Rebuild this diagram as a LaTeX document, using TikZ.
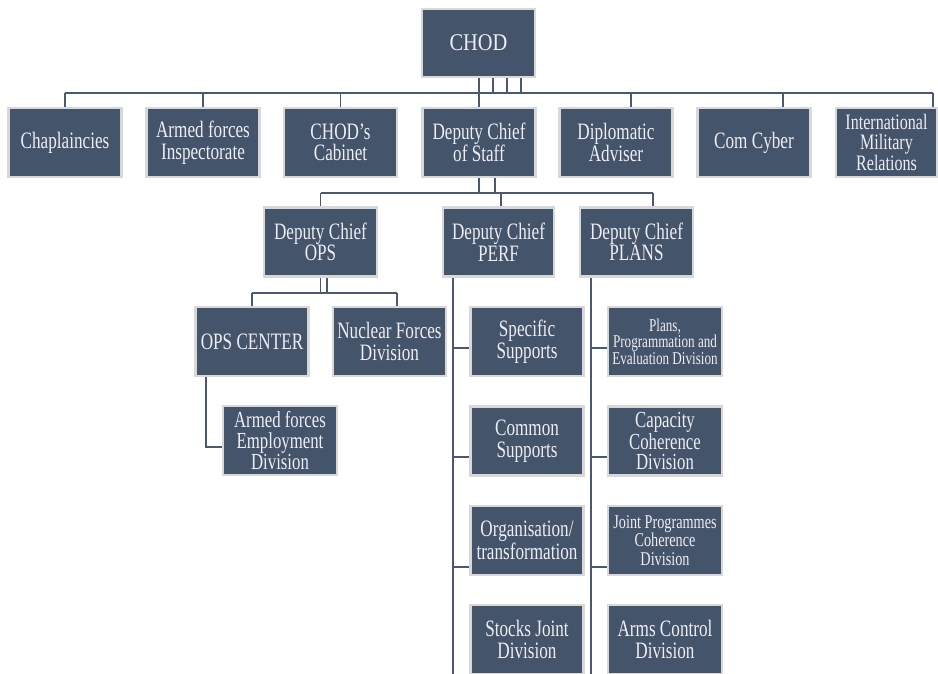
\documentclass[tikz,border=0pt]{standalone}
\usepackage{fontspec}
\setmainfont{Liberation Serif}[FakeStretch=0.73]
\newfontfamily\headfont{Liberation Serif}[FakeStretch=0.85]
\usetikzlibrary{backgrounds}
\definecolor{boxfill}{HTML}{44546A}
\definecolor{boxedge}{HTML}{D8D8D8}
\definecolor{linkcol}{HTML}{4A5870}
\definecolor{boxtext}{HTML}{EEEEF2}
\begin{document}
\begin{tikzpicture}[x=1pt,y=-1pt,
  unit/.style={draw=boxedge, line width=2.2pt, fill=boxfill, text=boxtext,
    minimum width=113pt, minimum height=69pt, inner sep=1pt, outer sep=0pt,
    align=center, font=\fontsize{23.5}{21.5}\selectfont},
  three/.style={font=\fontsize{23}{20.8}\selectfont},
  small/.style={font=\fontsize{18}{16.5}\selectfont},
  link/.style={draw=linkcol, line width=1.4pt}]
\useasboundingbox (0,0) rectangle (938,673);

% top of the chart
\node[unit, minimum height=68pt, font=\headfont\fontsize{24}{26}\selectfont] (chod) at (478.5,43) {CHOD};

% staff directly attached to CHOD
\node[unit] (chap)  at (65,142.5)  {Chaplaincies};
\node[unit] (afi)   at (203,142.5) {Armed forces\\Inspectorate};
\node[unit] (cab)   at (340.5,142.5) {CHOD’s\\Cabinet};
\node[unit] (dcs)   at (479,142.5) {Deputy Chief\\of Staff};
\node[unit] (dipl)  at (616,142.5) {Diplomatic\\Adviser};
\node[unit] (cyber) at (754,142.5) {Com Cyber};
\node[unit, minimum width=101pt, font=\fontsize{22}{20}\selectfont] (imr) at (886.5,142.5) {International\\Military\\Relations};

% deputy chiefs
\node[unit] (ops)   at (320.5,242) {Deputy Chief\\OPS};
\node[unit, minimum width=111pt] (perf) at (498.5,242) {Deputy Chief\\PERF};
\node[unit] (plans) at (636.5,242) {Deputy Chief\\PLANS};

% OPS branch
\node[unit] (opsc) at (252,341.5)   {OPS CENTER};
\node[unit] (nuc)  at (389.5,341.5) {Nuclear Forces\\Division};
\node[unit, minimum width=114pt, three] (afe) at (280,440.5) {Armed forces\\Employment\\Division};

% PERF branch
\node[unit] (spec)  at (527,341.5) {Specific\\Supports};
\node[unit] (comm)  at (527,441)   {Common\\Supports};
\node[unit] (org)   at (527,540.5) {Organisation/\\transformation};
\node[unit] (stock) at (527,639.5) {Stocks Joint\\Division};

% PLANS branch
\node[unit, minimum width=114pt, small] (ppe) at (665,341.5) {Plans,\\Programmation and\\Evaluation Division};
\node[unit, minimum width=114pt, three] (cap) at (665,441) {Capacity\\Coherence\\Division};
\node[unit, minimum width=114pt, font=\fontsize{19.5}{18.5}\selectfont] (jpc) at (665,540.5) {Joint Programmes\\Coherence\\Division};
\node[unit, minimum width=114pt] (arms) at (665,639.5) {Arms Control\\Division};

% bus levels
\coordinate (busA) at (0,93);
\coordinate (busAend) at (933,93);
\coordinate (busB) at (0,193);
\coordinate (busBend) at (653,193);
\coordinate (busC) at (0,293);
\coordinate (busCend) at (397,293);

\begin{pgfonlayer}{background}
  % CHOD to its staff
  \draw[link] (chod.south -| dcs.north) -- (dcs.north);
  \foreach \dx in {14.5,28.5,42.5}
    \draw[link] ([xshift=\dx pt]chod.south) -- ++(0,16);
  \draw[link] (chap.north |- busA) -- (busAend);
  \foreach \n in {chap,afi,cab}
    \draw[link] (\n.north) -- (\n.north |- busA);
  \draw[link] ([xshift=15pt]dipl.north) -- ++(0,-15);
  \draw[link] ([xshift=29pt]cyber.north) -- ++(0,-15);
  \draw[link] ([xshift=46.5pt]imr.north) -- (busAend);

  % Deputy Chief of Staff to the deputy chiefs
  \draw[link] (dcs.south) -- ++(0,16);
  \draw[link] ([xshift=16pt]dcs.south) -- ++(0,16);
  \draw[link] (ops.north |- busB) -- (busBend);
  \draw[link] (ops.north |- busB) -- (ops.north);
  \draw[link] ([xshift=2.5pt]perf.north) -- ++(0,-15);
  \draw[link] ([xshift=16.5pt]plans.north) -- (busBend);

  % OPS branch
  \draw[link] (ops.south) -- ++(0,17);
  \draw[link] ([xshift=6.5pt]ops.south) -- ++(0,17);
  \draw[link] (opsc.north |- busC) -- (busCend);
  \draw[link] (opsc.north) -- (opsc.north |- busC);
  \draw[link] ([xshift=7.5pt]nuc.north) -- (busCend);
  \draw[link] ([xshift=-46pt]opsc.south) |- ([yshift=-6.5pt]afe.west);

  % PERF spine
  \draw[link] ([xshift=-45.5pt]perf.south) -- ++(0,397);
  \draw[link] ([yshift=-6.5pt]spec.west) -- ++(-18,0);
  \draw[link] ([yshift=-16pt]comm.west) -- ++(-18,0);
  \draw[link] ([yshift=-26.5pt]org.west) -- ++(-18,0);

  % PLANS spine
  \draw[link] ([xshift=-45.5pt]plans.south) -- ++(0,397);
  \draw[link] ([yshift=-6.5pt]ppe.west) -- ++(-17,0);
  \draw[link] ([yshift=-16pt]cap.west) -- ++(-17,0);
  \draw[link] ([yshift=-26.5pt]jpc.west) -- ++(-17,0);
\end{pgfonlayer}
\end{tikzpicture}
\end{document}
